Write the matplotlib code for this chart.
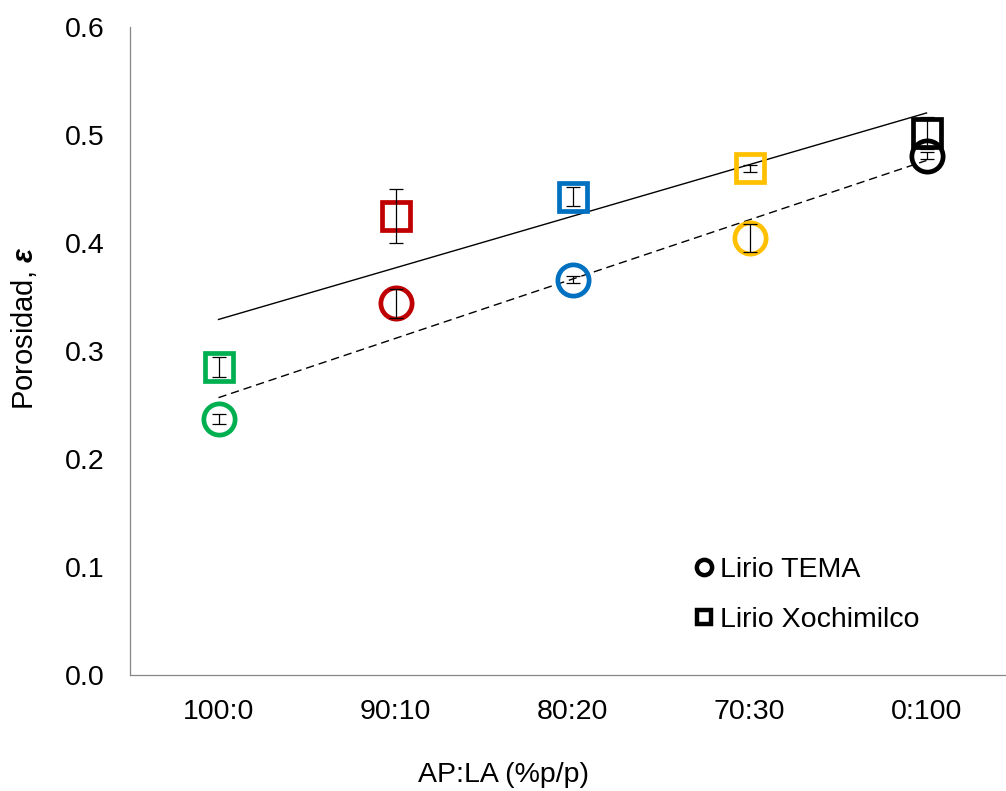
import numpy as np
import matplotlib
matplotlib.use("Agg")
import matplotlib.pyplot as plt
from matplotlib.lines import Line2D

plt.rcParams['font.family'] = ['Liberation Sans', 'DejaVu Sans']
plt.rcParams['mathtext.fontset'] = 'custom'
plt.rcParams['mathtext.rm'] = 'Liberation Sans'
plt.rcParams['mathtext.it'] = 'Liberation Sans:italic'
plt.rcParams['mathtext.bf'] = 'Liberation Sans:bold'
plt.rcParams['mathtext.bfit'] = 'Liberation Sans:bold:italic'

categories = ["100:0", "90:10", "80:20", "70:30", "0:100"]
colors = ["#00B050", "#C00000", "#0070C0", "#FFC000", "#000000"]

tema = [0.237, 0.344, 0.366, 0.405, 0.481]
tema_err = [0.005, 0.013, 0.003, 0.013, 0.003]
xochi = [0.285, 0.425, 0.443, 0.469, 0.502]
xochi_err = [0.009, 0.025, 0.009, 0.003, 0.015]

FS = 20.5

fig = plt.figure(figsize=(10.06, 7.91), dpi=100)
ax = fig.add_axes([130 / 1006, 116 / 791, 885 / 1006, 648 / 791])

x = np.arange(1, len(categories) + 1)

# Linear trend lines for each series
for vals, ls in ((xochi, '-'), (tema, '--')):
    m, b = np.polyfit(x, vals, 1)
    line, = ax.plot([x[0], x[-1]], [m * x[0] + b, m * x[-1] + b], color='black',
                    lw=1.0, ls=ls, zorder=2)
    if ls == '--':
        line.set_dashes((6, 3.5))

for i in range(len(x)):
    ax.plot(x[i], tema[i], 'o', ms=22.5, mfc='none', mec=colors[i], mew=3.4, zorder=3)
    ax.plot(x[i], xochi[i], 's', ms=20.5, mfc='none', mec=colors[i], mew=3.4, zorder=3)
    ax.errorbar(x[i], tema[i], yerr=tema_err[i], fmt='none', ecolor='black',
                elinewidth=0.9, capsize=5, capthick=0.9, zorder=4)
    ax.errorbar(x[i], xochi[i], yerr=xochi_err[i], fmt='none', ecolor='black',
                elinewidth=0.9, capsize=5, capthick=0.9, zorder=4)

ax.set_xlim(0.5, 5.5)
ax.set_ylim(0, 0.6)
ax.set_xticks(x)
ax.set_xticklabels(categories)
ax.set_yticks(np.arange(0, 0.61, 0.1))
ax.set_yticklabels([f"{v:.1f}" for v in np.arange(0, 0.61, 0.1)])
ax.tick_params(axis='both', length=0, labelsize=FS)
ax.tick_params(axis='y', pad=18)
ax.tick_params(axis='x', pad=17)

for s in ('top', 'right'):
    ax.spines[s].set_visible(False)
for s in ('left', 'bottom'):
    ax.spines[s].set_color('#868686')
    ax.spines[s].set_linewidth(0.9)

ax.set_xlabel("AP:LA (%p/p)", fontsize=FS, va='center')
ax.set_ylabel(r"Porosidad, $\mathbfit{\varepsilon}$", fontsize=FS + 0.5, va='center')
ax.xaxis.set_label_coords((503 - 130) / 885, -(775 - 675) / 648)
ax.yaxis.set_label_coords(-(130 - 24) / 885, (675 - 328) / 648)

handles = [
    Line2D([], [], marker='o', ls='none', ms=11, mfc='none', mec='black', mew=3.2, label='Lirio TEMA'),
    Line2D([], [], marker='s', ls='none', ms=10.5, mfc='none', mec='black', mew=3.2, label='Lirio Xochimilco'),
]
fig.legend(handles=handles, loc='upper left', bbox_to_anchor=(684 / 1006, 1 - 546 / 791),
           frameon=False, fontsize=FS, handlelength=0.6, handletextpad=0.25,
           labelspacing=0.83, borderaxespad=0)

fig.savefig("out.png", dpi=100)
